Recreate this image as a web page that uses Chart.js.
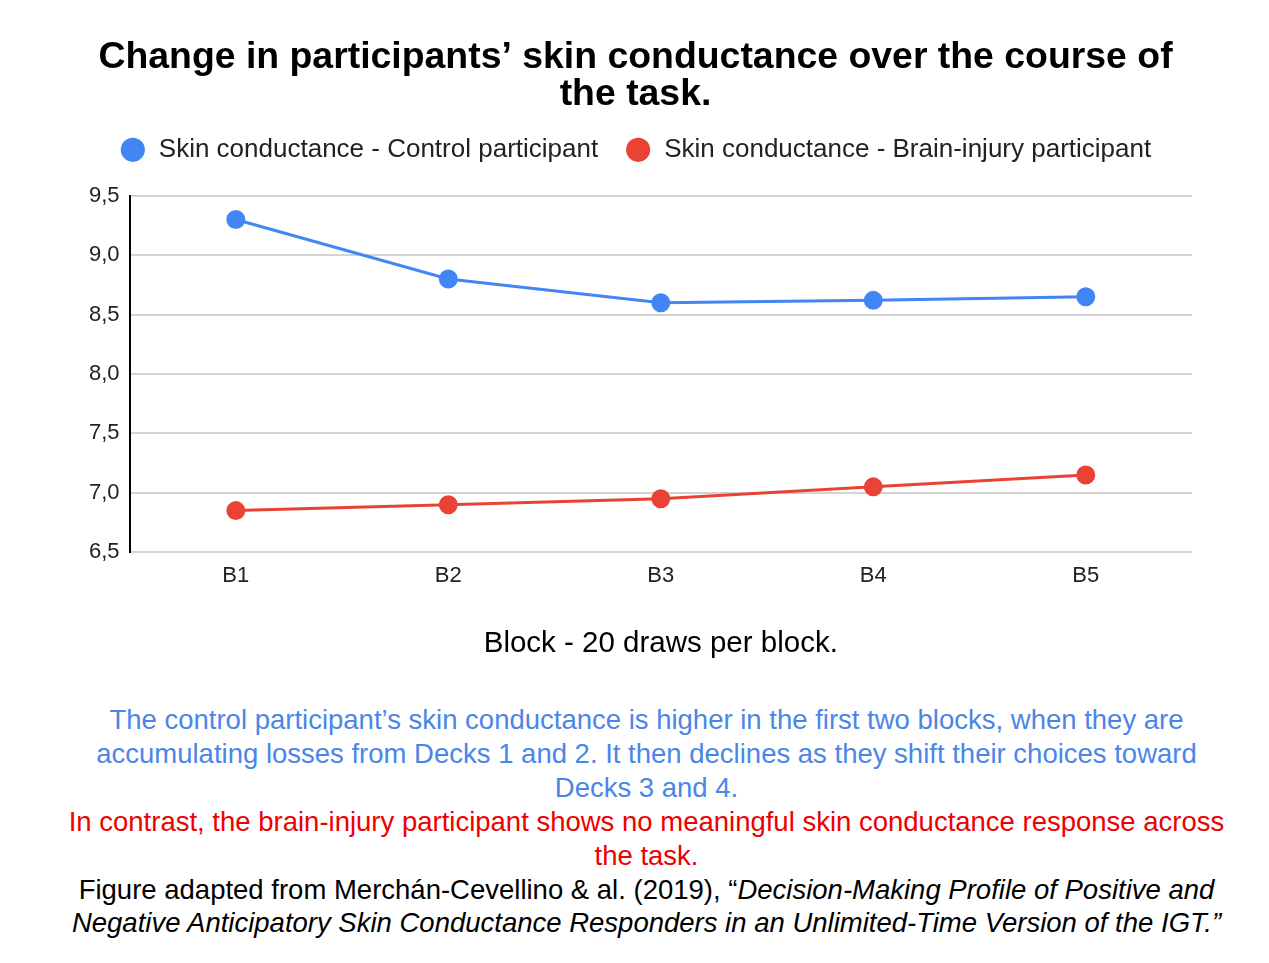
<!DOCTYPE html>
<html>
<head>
<meta charset="utf-8">
<script src="https://cdn.jsdelivr.net/npm/chart.js@4"></script>
<style>
    body{ margin:0; background:#fff; font-family:"Liberation Sans", Arial, sans-serif; }
    #wrap{ position:absolute; left:0; top:0; width:1269px; height:662px; }
    #notes{ position:absolute; left:12px; top:703px; width:1269px; text-align:center; font-size:27.5px; line-height:34px; }
    .blue{ color:#4a86e8; }
    .red{ color:#ee0000; }
    .cite{ color:#000; line-height:33px; }
</style>
</head>
<body>
<div id="wrap"><canvas id="chart"></canvas></div>
<div id="notes">
    <div class="blue">The control participant’s skin conductance is higher in the first two blocks, when they are<br>accumulating losses from Decks 1 and 2. It then declines as they shift their choices toward<br>Decks 3 and 4.</div>
    <div class="red">In contrast, the brain-injury participant shows no meaningful skin conductance response across<br>the task.</div>
    <div class="cite">Figure adapted from Merchán-Cevellino &amp; al. (2019), “<i>Decision-Making Profile of Positive and<br>Negative Anticipatory Skin Conductance Responders in an Unlimited-Time Version of the IGT.”</i></div>
</div>
<script>
    // chart data
    const blocks = ['B1', 'B2', 'B3', 'B4', 'B5'];
    const controlValues = [9.30, 8.80, 8.60, 8.62, 8.65];
    const injuryValues = [6.85, 6.90, 6.95, 7.05, 7.15];
    const yTicks = [6.5, 7.0, 7.5, 8.0, 8.5, 9.0, 9.5];

    const font = "'Liberation Sans', Arial, sans-serif";

    // give the legend some room below it
    const legendSpace = {
        id: 'legendSpace',
        beforeInit(chart){
            const fit = chart.legend.fit;
            chart.legend.fit = function(){
                fit.bind(chart.legend)();
                this.height += 23;
            }
        }
    };

    const ctx = document.getElementById('chart').getContext('2d');
    const myChart = new Chart(ctx, {
        type: 'line',
        data: {
            labels: blocks,
            datasets: [{
                label: 'Skin conductance - Control participant',
                data: controlValues,
                borderColor: '#4285f4',
                backgroundColor: '#4285f4',
                borderWidth: 3,
                pointRadius: 8,
                pointHoverRadius: 8,
                tension: 0
            }, {
                label: 'Skin conductance - Brain-injury participant',
                data: injuryValues,
                borderColor: '#ea4335',
                backgroundColor: '#ea4335',
                borderWidth: 3,
                pointRadius: 8,
                pointHoverRadius: 8,
                tension: 0
            }]
        },
        options: {
            responsive: true,
            maintainAspectRatio: false,
            animation: false,
            layout: {
                padding: { top: 39, left: 79, right: 77, bottom: 0 }
            },
            plugins: {
                title: {
                    display: true,
                    text: ['Change in participants’ skin conductance over the course of', 'the task.'],
                    color: '#000',
                    font: { family: font, size: 37.4, weight: 'bold', lineHeight: 1.0 },
                    padding: { top: 0, bottom: -4 }
                },
                legend: {
                    position: 'top',
                    labels: {
                        usePointStyle: true,
                        pointStyle: 'circle',
                        boxWidth: 28,
                        boxHeight: 15,
                        padding: 27,
                        color: '#222',
                        font: { family: font, size: 26 }
                    }
                },
                tooltip: { enabled: false }
            },
            scales: {
                x: {
                    offset: true,
                    grid: { display: false },
                    border: { display: false },
                    ticks: {
                        color: '#222',
                        font: { family: font, size: 22 },
                        padding: 3
                    },
                    title: {
                        display: true,
                        text: 'Block - 20 draws per block.',
                        color: '#000',
                        font: { family: font, size: 29.5 },
                        padding: { top: 34, bottom: 0 }
                    }
                },
                y: {
                    min: 6.5,
                    max: 9.5,
                    afterBuildTicks: function(axis){
                        axis.ticks = yTicks.map(v => ({ value: v }));
                    },
                    grid: { color: '#d3d3d3', lineWidth: 2, drawTicks: false },
                    border: { display: true, color: '#000', width: 2 },
                    ticks: {
                        color: '#222',
                        font: { family: font, size: 22 },
                        padding: 10,
                        callback: function(value){
                            return value.toFixed(1).replace('.', ',');
                        }
                    }
                }
            }
        },
        plugins: [legendSpace]
    });
</script>
</body>
</html>
